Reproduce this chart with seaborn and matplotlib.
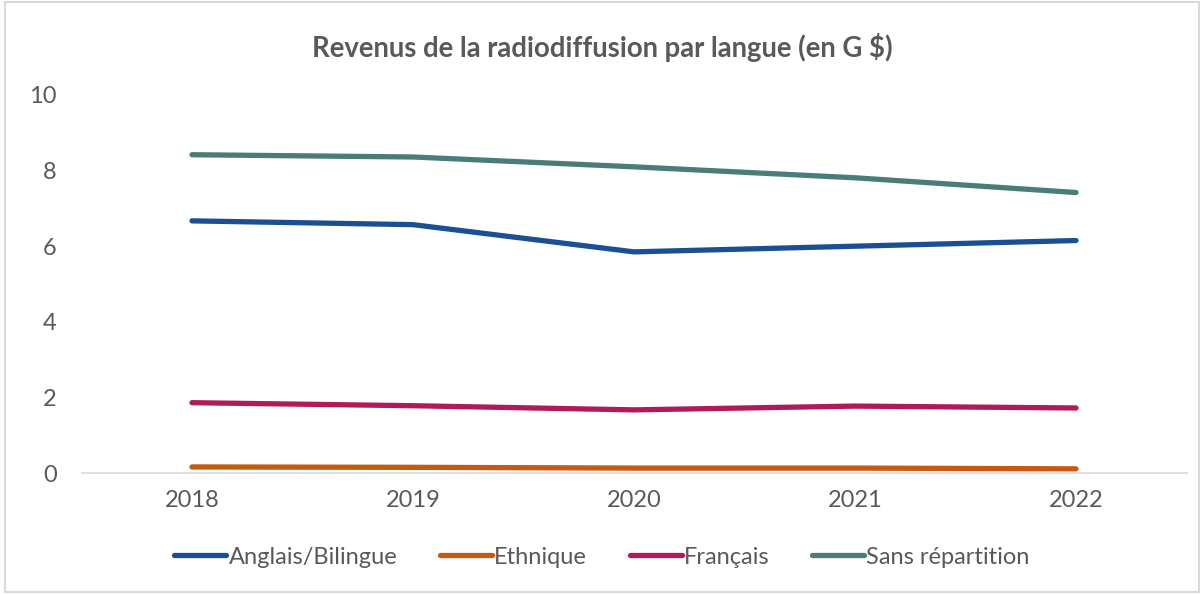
import matplotlib
matplotlib.use("Agg")
import matplotlib.pyplot as plt
import seaborn as sns
import pandas as pd
from matplotlib.patches import Rectangle

years = ["2018", "2019", "2020", "2021", "2022"]
series_names = ["Anglais/Bilingue", "Ethnique", "Français", "Sans répartition"]
anglais = [6.67, 6.57, 5.85, 6.00, 6.15]
ethnique = [0.16, 0.15, 0.13, 0.13, 0.11]
francais = [1.86, 1.78, 1.67, 1.77, 1.72]
sans_rep = [8.42, 8.36, 8.10, 7.81, 7.42]
colors = ["#1B4F93", "#C55A11", "#B0195A", "#4A7C7A"]
title = "Revenus de la radiodiffusion par langue (en G $)"
yticks = [0, 2, 4, 6, 8, 10]

sns.set_theme(style="white")
plt.rcParams['font.family'] = ['Lato', 'DejaVu Sans']

rows = []
for name, vals in zip(series_names, [anglais, ethnique, francais, sans_rep]):
    for i, (y, v) in enumerate(zip(years, vals)):
        rows.append({"x": i, "year": y, "value": v, "series": name})
df = pd.DataFrame(rows)

fig = plt.figure(figsize=(12.04, 5.94), dpi=100)
ax = fig.add_axes([81.5/1204, 1-473/594, (1186.5-81.5)/1204, (473-95)/594])

sns.lineplot(data=df, x="x", y="value", hue="series", hue_order=series_names,
             palette=colors, linewidth=3.8, ax=ax, legend=False,
             solid_capstyle="round", solid_joinstyle="round")

ax.set_xlim(-0.5, 4.5)
ax.set_ylim(0, 10)
ax.set_yticks(yticks)
ax.set_yticklabels([str(t) for t in yticks])
ax.set_xticks(range(len(years)))
ax.set_xticklabels(years)
ax.set_xlabel("")
ax.set_ylabel("")
for s in ["top", "right", "left"]:
    ax.spines[s].set_visible(False)
ax.spines["bottom"].set_color("#D9D9D9")
ax.spines["bottom"].set_linewidth(1.2)
ax.tick_params(axis="both", length=0, labelsize=17, labelcolor="#595959")
ax.tick_params(axis="y", pad=18)
ax.tick_params(axis="x", pad=12)
for lab in ax.get_yticklabels():
    lab.set_horizontalalignment("right")

fig.text(0.5, 1-47/594, title, ha="center", va="center", fontsize=19.8,
         fontweight="bold", color="#595959")

handles = [plt.Line2D([0], [0], color=c, lw=3.8, solid_capstyle="round") for c in colors]
fig.legend(handles, series_names, loc="center", bbox_to_anchor=(0.5, 1-557/594),
           ncol=4, frameon=False, fontsize=17, handlelength=2.2, handletextpad=0.1,
           columnspacing=1.8, labelcolor="#595959")

fig.patches.append(Rectangle((0.004, 0.004), 0.992, 0.992, transform=fig.transFigure,
                             fill=False, edgecolor="#D9D9D9", linewidth=1.5))

fig.savefig("out.png", dpi=100)
